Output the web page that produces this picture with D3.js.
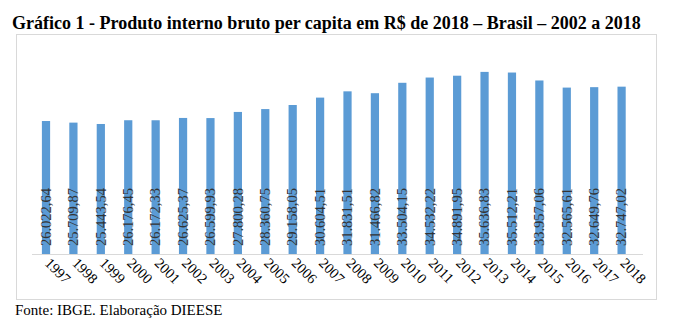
<!DOCTYPE html>
<html>
<head>
<meta charset="utf-8">
<script src="https://cdn.jsdelivr.net/npm/d3@7"></script>
<style>
  body { margin: 0; background: #fff; }
  text { font-family: "Liberation Serif", "Times New Roman", serif; }
</style>
</head>
<body>
<div id="chart"></div>
<script>
var years = ['1997', '1998', '1999', '2000', '2001', '2002', '2003', '2004', '2005', '2006', '2007',
  '2008', '2009', '2010', '2011', '2012', '2013', '2014', '2015', '2016', '2017', '2018'];

var pibPerCapita = [26022.64, 25709.87, 25443.54, 26176.45, 26172.33, 26625.37, 26599.93, 27800.28,
  28360.75, 29158.05, 30604.51, 31831.51, 31466.82, 33504.15, 34532.22, 34891.95, 35636.83,
  35512.21, 33957.06, 32565.61, 32649.76, 32747.02];

var width = 673;
var height = 327;

var ptBR = d3.formatLocale({ decimal: ',', thousands: '.', grouping: [3], currency: ['R$', ''] });
var fmt = ptBR.format(',.2f');

var svg = d3.select('#chart')
  .append('svg')
  .attr('width', width)
  .attr('height', height);

// title
svg.append('text')
  .attr('x', 12)
  .attr('y', 29)
  .attr('font-size', 18)
  .attr('font-weight', 'bold')
  .attr('fill', '#000')
  .text('Gráfico 1 - Produto interno bruto per capita em R$ de 2018 – Brasil – 2002 a 2018');

// chart frame
svg.append('rect')
  .attr('x', 16.5)
  .attr('y', 34.5)
  .attr('width', 640)
  .attr('height', 265)
  .attr('fill', 'none')
  .attr('stroke', '#d9d9d9');

var x = d3.scaleBand()
  .domain(years)
  .range([32.3, 635.3])
  .paddingInner(0.7)
  .paddingOuter(0.35);

var y = d3.scaleLinear()
  .domain([0, 40000])
  .range([254, 49.6]);

var data = years.map(function (yr, i) {
  return { year: yr, value: pibPerCapita[i] };
});

svg.selectAll('rect.bar')
  .data(data)
  .enter()
  .append('rect')
  .attr('class', 'bar')
  .attr('x', function (d) { return x(d.year); })
  .attr('y', function (d) { return y(d.value); })
  .attr('width', x.bandwidth())
  .attr('height', function (d) { return y(0) - y(d.value); })
  .attr('fill', '#5b9bd5');

// baseline
svg.append('line')
  .attr('x1', 32)
  .attr('x2', 643)
  .attr('y1', y(0) + 0.5)
  .attr('y2', y(0) + 0.5)
  .attr('stroke', '#d9d9d9');

// value labels, vertical, anchored near the base
svg.selectAll('text.value')
  .data(data)
  .enter()
  .append('text')
  .attr('class', 'value')
  .attr('transform', function (d) {
    var cx = x(d.year) + x.bandwidth() / 2;
    return 'translate(' + (cx + 4.8) + ',246) rotate(-90)';
  })
  .attr('font-size', 14.5)
  .attr('fill', '#333')
  .text(function (d) { return fmt(d.value); });

// year labels, slanted
svg.selectAll('text.year')
  .data(data)
  .enter()
  .append('text')
  .attr('class', 'year')
  .attr('transform', function (d) {
    var cx = x(d.year) + x.bandwidth() / 2;
    return 'translate(' + (cx - 2) + ',264) rotate(45)';
  })
  .attr('font-size', 14.5)
  .attr('fill', '#000')
  .text(function (d) { return d.year; });

// source
svg.append('text')
  .attr('x', 15)
  .attr('y', 315)
  .attr('font-size', 15)
  .attr('fill', '#000')
  .text('Fonte: IBGE. Elaboração DIEESE');
</script>
</body>
</html>
